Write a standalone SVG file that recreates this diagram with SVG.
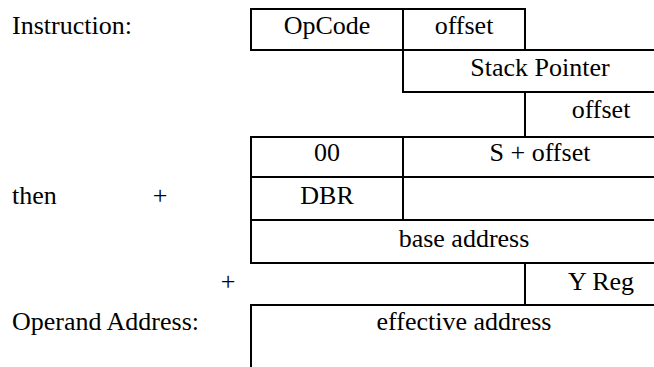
<svg xmlns="http://www.w3.org/2000/svg" width="654" height="367" viewBox="0 0 654 367" font-family="'Liberation Serif', 'Times New Roman', Times, 'DejaVu Serif', serif">
<style>
  text { font-family: "Liberation Serif", "Times New Roman", Times, "DejaVu Serif", serif; font-size: 26px; fill: #000; }
  .c { text-anchor: middle; }
  .grid line { stroke: #000; stroke-width: 2; }
</style>
<rect width="654" height="367" fill="#fff"/>
<g id="connectors" class="grid">
  <line x1="250" y1="9" x2="526" y2="9"/>
  <line x1="250" y1="50" x2="654" y2="50"/>
  <line x1="402" y1="92" x2="654" y2="92"/>
  <line x1="250" y1="137" x2="654" y2="137"/>
  <line x1="250" y1="177" x2="654" y2="177"/>
  <line x1="250" y1="220" x2="654" y2="220"/>
  <line x1="250" y1="263" x2="654" y2="263"/>
  <line x1="250" y1="305" x2="654" y2="305"/>
  <line x1="251" y1="9" x2="251" y2="50"/>
  <line x1="403" y1="9" x2="403" y2="92"/>
  <line x1="525" y1="9" x2="525" y2="50"/>
  <line x1="525" y1="92" x2="525" y2="137"/>
  <line x1="251" y1="137" x2="251" y2="263"/>
  <line x1="403" y1="137" x2="403" y2="220"/>
  <line x1="525" y1="263" x2="525" y2="305"/>
  <line x1="251" y1="305" x2="251" y2="367"/>
</g>
<g id="label-instruction"><text x="12" y="34">Instruction:</text></g>
<g id="label-then"><text x="12" y="204">then</text></g>
<g id="label-plus1"><text class="c" x="160" y="204">+</text></g>
<g id="label-plus2"><text class="c" x="228" y="290">+</text></g>
<g id="label-operand"><text x="12" y="330">Operand Address:</text></g>
<g id="cell-opcode"><text class="c" x="327" y="34">OpCode</text></g>
<g id="cell-offset1"><text class="c" x="464" y="34">offset</text></g>
<g id="cell-sp"><text class="c" x="540" y="76">Stack Pointer</text></g>
<g id="cell-offset2"><text class="c" x="601" y="118">offset</text></g>
<g id="cell-00"><text class="c" x="327" y="161">00</text></g>
<g id="cell-soffset"><text class="c" x="540" y="161">S + offset</text></g>
<g id="cell-dbr"><text class="c" x="327" y="204">DBR</text></g>
<g id="cell-empty"></g>
<g id="cell-base"><text class="c" x="464" y="247">base address</text></g>
<g id="cell-yreg"><text class="c" x="601" y="290">Y Reg</text></g>
<g id="cell-effective"><text class="c" x="464" y="330">effective address</text></g>
</svg>
